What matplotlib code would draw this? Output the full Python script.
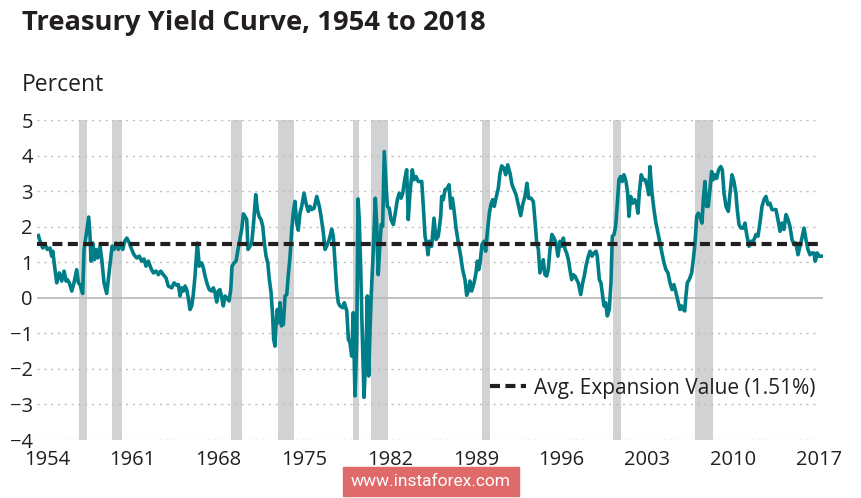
import matplotlib
matplotlib.use("Agg")
import matplotlib.pyplot as plt
from matplotlib.patches import Rectangle

plt.rcParams['font.family'] = ['Open Sans', 'DejaVu Sans']

# 10-year minus short rate spread (chart's own year scale)
years = [
    1953.29, 1953.43, 1953.65, 1953.84, 1954.02, 1954.24, 1954.38, 1954.47, 1954.65, 1954.79,
    1955.00, 1955.20, 1955.39, 1955.55, 1955.66, 1955.82, 1956.02, 1956.20, 1956.42, 1956.56,
    1956.69, 1956.91, 1957.02, 1957.18, 1957.40, 1957.51, 1957.59, 1957.73, 1957.86, 1958.00,
    1958.14, 1958.33, 1958.47, 1958.65, 1958.87, 1959.09, 1959.31, 1959.47, 1959.63, 1959.82,
    1960.02, 1960.18, 1960.34, 1960.51, 1960.72, 1960.91, 1961.10, 1961.32, 1961.53, 1961.73,
    1961.92, 1962.08, 1962.27, 1962.47, 1962.68, 1962.90, 1963.09, 1963.28, 1963.49, 1963.71,
    1963.90, 1964.18, 1964.37, 1964.59, 1964.72, 1964.86, 1965.00, 1965.13, 1965.27, 1965.40,
    1965.53, 1965.67, 1965.81, 1965.94, 1966.08, 1966.27, 1966.43, 1966.63, 1966.76, 1966.90,
    1967.09, 1967.25, 1967.44, 1967.58, 1967.71, 1967.85, 1967.98, 1968.12, 1968.26, 1968.39,
    1968.53, 1968.67, 1968.86, 1969.00, 1969.10, 1969.27, 1969.43, 1969.59, 1969.76, 1969.89,
    1970.03, 1970.16, 1970.30, 1970.41, 1970.57, 1970.71, 1970.84, 1971.04, 1971.17, 1971.31,
    1971.47, 1971.61, 1971.74, 1971.88, 1972.02, 1972.15, 1972.29, 1972.42, 1972.50, 1972.61,
    1972.69, 1972.80, 1972.91, 1973.02, 1973.13, 1973.29, 1973.43, 1973.57, 1973.70, 1973.84,
    1973.98, 1974.11, 1974.24, 1974.38, 1974.51, 1974.65, 1974.79, 1974.98, 1975.14, 1975.33,
    1975.47, 1975.61, 1975.80, 1976.02, 1976.23, 1976.37, 1976.56, 1976.69, 1976.83, 1977.04,
    1977.24, 1977.37, 1977.51, 1977.65, 1977.78, 1977.92, 1978.14, 1978.27, 1978.47, 1978.60,
    1978.73, 1978.87, 1979.00, 1979.14, 1979.28, 1979.39, 1979.49, 1979.61, 1979.71, 1979.88,
    1980.04, 1980.15, 1980.26, 1980.37, 1980.47, 1980.64, 1980.80, 1980.91, 1981.04, 1981.18,
    1981.29, 1981.40, 1981.53, 1981.67, 1981.78, 1981.94, 1982.08, 1982.27, 1982.43, 1982.60,
    1982.76, 1982.90, 1983.04, 1983.20, 1983.36, 1983.49, 1983.63, 1983.82, 1983.96, 1984.12,
    1984.31, 1984.59, 1984.72, 1984.86, 1985.00, 1985.10, 1985.21, 1985.40, 1985.59, 1985.76,
    1985.94, 1986.14, 1986.22, 1986.35, 1986.49, 1986.68, 1986.82, 1986.96, 1987.09, 1987.22,
    1987.39, 1987.58, 1987.77, 1987.93, 1988.12, 1988.26, 1988.39, 1988.53, 1988.67, 1988.86,
    1989.02, 1989.13, 1989.24, 1989.35, 1989.51, 1989.67, 1989.81, 1989.94, 1990.11, 1990.24,
    1990.38, 1990.51, 1990.65, 1990.84, 1990.98, 1991.12, 1991.31, 1991.44, 1991.61, 1991.80,
    1991.96, 1992.12, 1992.29, 1992.47, 1992.67, 1992.83, 1993.02, 1993.18, 1993.32, 1993.51,
    1993.70, 1993.84, 1993.98, 1994.11, 1994.24, 1994.38, 1994.51, 1994.65, 1994.79, 1994.92,
    1995.06, 1995.22, 1995.39, 1995.55, 1995.71, 1995.88, 1996.02, 1996.15, 1996.29, 1996.42,
    1996.56, 1996.69, 1996.83, 1996.96, 1997.10, 1997.24, 1997.37, 1997.57, 1997.73, 1997.86,
    1998.00, 1998.19, 1998.33, 1998.49, 1998.65, 1998.82, 1998.92, 1999.09, 1999.22, 1999.36,
    1999.47, 1999.61, 1999.74, 1999.90, 2000.04, 2000.15, 2000.29, 2000.42, 2000.56, 2000.69,
    2000.83, 2000.96, 2001.10, 2001.27, 2001.40, 2001.51, 2001.65, 2001.81, 2001.98, 2002.14,
    2002.24, 2002.35, 2002.51, 2002.68, 2002.84, 2003.00, 2003.12, 2003.22, 2003.39, 2003.55,
    2003.71, 2003.88, 2004.04, 2004.20, 2004.37, 2004.53, 2004.69, 2004.86, 2005.02, 2005.18,
    2005.35, 2005.51, 2005.67, 2005.81, 2005.94, 2006.06, 2006.16, 2006.27, 2006.43, 2006.63,
    2006.76, 2006.90, 2007.04, 2007.17, 2007.31, 2007.47, 2007.58, 2007.71, 2007.85, 2007.98,
    2008.12, 2008.26, 2008.39, 2008.53, 2008.67, 2008.83, 2009.00, 2009.13, 2009.27, 2009.43,
    2009.62, 2009.76, 2009.92, 2010.08, 2010.24, 2010.35, 2010.49, 2010.65, 2010.84, 2010.98,
    2011.12, 2011.31, 2011.47, 2011.66, 2011.88, 2012.04, 2012.20, 2012.37, 2012.53, 2012.69,
    2012.86, 2013.02, 2013.18, 2013.35, 2013.51, 2013.67, 2013.84, 2014.00, 2014.16, 2014.33,
    2014.49, 2014.65, 2014.82, 2014.98, 2015.14, 2015.31, 2015.47, 2015.63, 2015.80, 2015.96,
    2016.12, 2016.29, 2016.45, 2016.61, 2016.72, 2016.88, 2017.04, 2017.24, 2017.37,
]
spread = [
    1.75, 1.59, 1.40, 1.50, 1.36, 1.40, 1.17, 1.31, 0.79, 0.42,
    0.70, 0.47, 0.75, 0.47, 0.51, 0.42, 0.19, 0.42, 0.79, 0.42,
    0.37, 0.12, 1.36, 1.73, 2.27, 1.73, 1.03, 1.54, 1.07, 1.36,
    1.12, 1.45, 1.07, 0.42, 0.12, 0.79, 1.45, 1.36, 1.54, 1.36,
    1.54, 1.36, 1.59, 1.68, 1.54, 1.36, 1.21, 1.12, 1.17, 1.03,
    1.09, 0.89, 1.03, 0.84, 0.70, 0.75, 0.65, 0.75, 0.65, 0.56,
    0.33, 0.28, 0.42, 0.35, 0.37, 0.05, 0.28, 0.19, 0.33, 0.23,
    0.00, -0.33, -0.23, 0.09, 0.61, 1.54, 0.89, 0.98, 0.84, 0.61,
    0.37, 0.23, 0.19, 0.28, 0.14, -0.12, 0.19, 0.23, 0.00, -0.23,
    0.05, 0.00, -0.09, 0.23, 0.89, 0.98, 1.03, 1.36, 1.68, 1.92,
    2.36, 2.29, 2.20, 1.36, 1.45, 1.54, 2.01, 2.90, 2.48, 2.29,
    2.20, 2.01, 1.54, 1.17, 0.98, 0.51, 0.14, -0.51, -1.17, -1.36,
    -0.79, -0.33, -0.70, -0.14, -0.79, -0.75, 0.05, 0.09, 0.65, 1.17,
    1.92, 2.43, 2.71, 2.10, 1.90, 2.38, 2.57, 2.94, 2.66, 2.43,
    2.57, 2.48, 2.52, 2.85, 2.57, 2.29, 1.82, 1.36, 1.45, 1.64,
    1.93, 1.73, 0.98, 0.23, -0.14, -0.23, -0.28, -0.14, -0.37, -1.17,
    -1.26, -1.64, -0.42, -2.76, -1.26, 2.78, 2.20, 0.79, -0.70, -2.80,
    -1.45, 0.05, -2.20, -0.90, 0.10, 1.36, 2.80, 2.10, 0.65, 1.54,
    2.06, 2.01, 4.11, 3.22, 2.57, 2.52, 2.20, 2.06, 2.38, 2.76,
    2.94, 2.80, 2.94, 3.32, 3.60, 2.20, 2.94, 3.60, 3.32, 3.41,
    3.27, 3.27, 2.57, 1.73, 1.50, 1.21, 1.59, 1.45, 2.24, 1.64,
    1.73, 2.29, 2.85, 2.76, 3.04, 3.08, 3.18, 2.52, 2.80, 2.48,
    1.96, 1.54, 1.17, 0.79, 0.51, 0.07, 0.19, 0.47, 0.19, 0.42,
    0.70, 1.03, 0.79, 0.98, 1.50, 1.59, 1.31, 1.82, 2.38, 2.62,
    2.76, 2.57, 2.80, 3.08, 3.50, 3.71, 3.64, 3.46, 3.74, 3.50,
    3.18, 3.04, 2.90, 2.62, 2.31, 2.62, 2.85, 3.22, 2.80, 2.80,
    2.71, 2.15, 1.54, 1.36, 0.70, 0.89, 1.07, 0.65, 0.61, 0.79,
    1.36, 1.78, 1.68, 1.54, 1.17, 1.59, 1.45, 1.68, 1.36, 1.26,
    1.07, 0.79, 0.51, 0.65, 0.61, 0.51, 0.42, 0.09, 0.42, 0.61,
    0.89, 1.17, 1.31, 1.17, 1.26, 1.31, 1.17, 0.51, 0.42, 0.05,
    -0.23, -0.14, -0.51, -0.33, 0.42, 1.73, 1.78, 2.01, 2.66, 3.32,
    3.41, 3.27, 3.46, 3.27, 2.94, 2.29, 2.85, 2.66, 2.76, 2.62,
    2.38, 2.94, 3.46, 3.32, 3.32, 3.13, 2.90, 3.69, 2.94, 2.48,
    2.10, 1.82, 1.54, 1.26, 0.98, 0.79, 0.70, 0.42, 0.23, 0.37,
    0.14, -0.09, -0.33, -0.23, -0.33, -0.37, 0.05, 0.42, 0.51, 0.70,
    1.07, 1.54, 2.29, 2.38, 2.29, 2.10, 2.76, 3.27, 2.57, 2.57,
    3.04, 3.55, 3.32, 3.46, 3.36, 3.60, 3.69, 3.60, 2.94, 2.57,
    2.43, 2.94, 3.46, 3.27, 2.94, 2.48, 2.06, 1.96, 1.96, 2.10,
    1.78, 1.45, 1.59, 1.59, 1.78, 1.73, 2.10, 2.57, 2.76, 2.85,
    2.62, 2.66, 2.48, 2.48, 2.48, 2.20, 1.87, 2.10, 1.92, 2.34,
    2.20, 2.01, 1.64, 1.50, 1.54, 1.21, 1.45, 1.68, 1.96, 1.64,
    1.36, 1.21, 1.26, 1.26, 1.03, 1.26, 1.17, 1.17, 1.17,
]

# recession periods (shaded), in the chart's year scale
rec_start = [1956.61, 1959.33, 1969.00, 1972.88, 1979.00, 1980.45, 1989.53, 2000.23, 2006.90]
rec_end = [1957.29, 1960.10, 1969.89, 1974.19, 1979.47, 1981.81, 1990.16, 2000.83, 2008.34]

avg_expansion = 1.51
xtick_years = [1954, 1961, 1968, 1975, 1982, 1989, 1996, 2003, 2010, 2017]
ytick_vals = [5, 4, 3, 2, 1, 0, -1, -2, -3, -4]

W, H = 861, 498
fig = plt.figure(figsize=(W / 100, H / 100), dpi=100)
ax = fig.add_axes([37 / W, (H - 440) / H, (823 - 37) / W, (440 - 120) / H])

for s, e in zip(rec_start, rec_end):
    ax.axvspan(s, e, color='#d1d2d4', lw=0, zorder=0)

for v in ytick_vals:
    if v == 0:
        ax.axhline(v, color='#b8b8b8', lw=1.2, zorder=1)
    else:
        ax.axhline(v, xmin=0.0, xmax=0.992, color='#bdbdbd', lw=1.0,
                   dashes=(1.5, 3.4), zorder=1)

ax.plot(years, spread, color='#007e88', lw=2.6, zorder=3, solid_joinstyle='round')
ax.axhline(avg_expansion, color='#231f20', lw=3.0, dashes=(2.4, 1.3), zorder=4,
           label='Avg. Expansion Value (1.51%)')

ax.set_xlim(1953.18, 2017.35)
ax.set_ylim(-4, 5)
ax.set_xticks(xtick_years)
ax.set_yticks(ytick_vals)
ax.tick_params(axis='both', length=0, labelsize=14.5, labelcolor='#231f20')
ax.tick_params(axis='y', pad=3)
ax.tick_params(axis='x', pad=7)
for sp in ax.spines.values():
    sp.set_visible(False)

leg = ax.legend(loc='center left', bbox_to_anchor=(490 / W, 1 - 388 / H),
                bbox_transform=fig.transFigure, frameon=False, fontsize=15,
                handlelength=1.75, handletextpad=0.35, borderpad=0, borderaxespad=0)
for t in leg.get_texts():
    t.set_color('#231f20')

fig.text(22 / W, 1 - 30 / H, 'Treasury Yield Curve, 1954 to 2018', fontsize=19.7,
         fontweight='bold', color='#231f20', va='baseline', ha='left')
fig.text(22 / W, 1 - 91 / H, 'Percent', fontsize=16.5, color='#231f20',
         va='baseline', ha='left')

# watermark box
fig.patches.append(Rectangle((343 / W, (H - 496) / H), 176 / W, 29 / H,
                             transform=fig.transFigure, color='#e06a6a', zorder=5))
fig.text(431 / W, 1 - 481.5 / H, 'www.instaforex.com', fontsize=12.5, color='white',
         ha='center', va='center', family=['Roboto', 'DejaVu Sans'], zorder=6)

fig.savefig('out.png', dpi=100)
